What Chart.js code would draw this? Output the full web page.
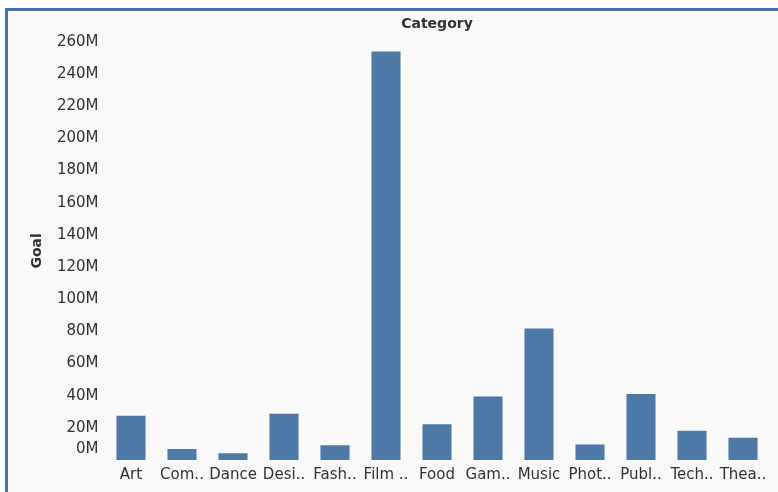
<!DOCTYPE html>
<html>
<head>
<meta charset="utf-8">
<script src="https://cdn.jsdelivr.net/npm/chart.js@4"></script>
<style>
  html, body { margin: 0; padding: 0; background: #fff; }
  body { width: 778px; height: 492px; position: relative; overflow: hidden; }
  #frame {
    position: absolute; left: 5px; top: 8px; width: 800px; height: 500px;
    border-top: 3px solid #4a6fb5; border-left: 3px solid #4a6fb5;
    background: #f9f9f9;
  }
  #chart { position: absolute; left: 0; top: 0; }
</style>
</head>
<body>
<div id="frame"></div>
<canvas id="chart" width="778" height="492"></canvas>
<script>
// categorias (nomes truncados como no original)
const categories = ['Art', 'Com..', 'Dance', 'Desi..', 'Fash..', 'Film ..', 'Food',
  'Gam..', 'Music', 'Phot..', 'Publ..', 'Tech..', 'Thea..'];

// Goal, em milhões
const goalMillions = [27.5, 6.8, 4.2, 28.7, 9.1, 254, 22.2, 39.5, 81.7, 9.7, 41, 18.2, 13.8];

// eixo Y
const yMax = 260;
const yStep = 20;

const fontFamily = "'DejaVu Sans', sans-serif";
const textColor = '#333';

// o Tableau sobe o rótulo "0M" um pouco acima da base
const nudgeZero = {
  id: 'nudgeZero',
  beforeDraw(chart) {
    const items = chart.scales.y.getLabelItems();
    if (items.length) items[0].options.translation[1] -= 11;
  }
};

const ctx = document.getElementById('chart').getContext('2d');

new Chart(ctx, {
  type: 'bar',
  data: {
    labels: categories,
    datasets: [{
      label: 'Goal',
      data: goalMillions,
      backgroundColor: '#4e79a7',
      barPercentage: 0.57,
      categoryPercentage: 1.0
    }]
  },
  options: {
    responsive: false,
    animation: false,
    layout: { padding: { left: 29, right: 9.5, top: 0, bottom: 2 } },
    plugins: {
      legend: { display: false },
      tooltip: { enabled: false },
      title: {
        display: true,
        text: 'Category',
        fullSize: false,
        color: textColor,
        font: { family: fontFamily, size: 14, weight: 'bold' },
        padding: { top: 16, bottom: 9 }
      }
    },
    scales: {
      x: {
        grid: { display: false, drawTicks: false },
        border: { display: false },
        ticks: {
          color: textColor,
          font: { family: fontFamily, size: 15 },
          padding: 6,
          maxRotation: 0,
          autoSkip: false
        }
      },
      y: {
        min: 0,
        max: yMax,
        grid: { display: false, drawTicks: false },
        border: { display: false },
        afterFit(scale) { scale.width = 76.5; },
        title: {
          display: true,
          text: 'Goal',
          color: textColor,
          font: { family: fontFamily, size: 14, weight: 'bold' },
          padding: 0
        },
        ticks: {
          stepSize: yStep,
          color: textColor,
          font: { family: fontFamily, size: 15 },
          padding: 7,
          callback: (v) => v + 'M'
        }
      }
    }
  },
  plugins: [nudgeZero]
});
</script>
</body>
</html>
